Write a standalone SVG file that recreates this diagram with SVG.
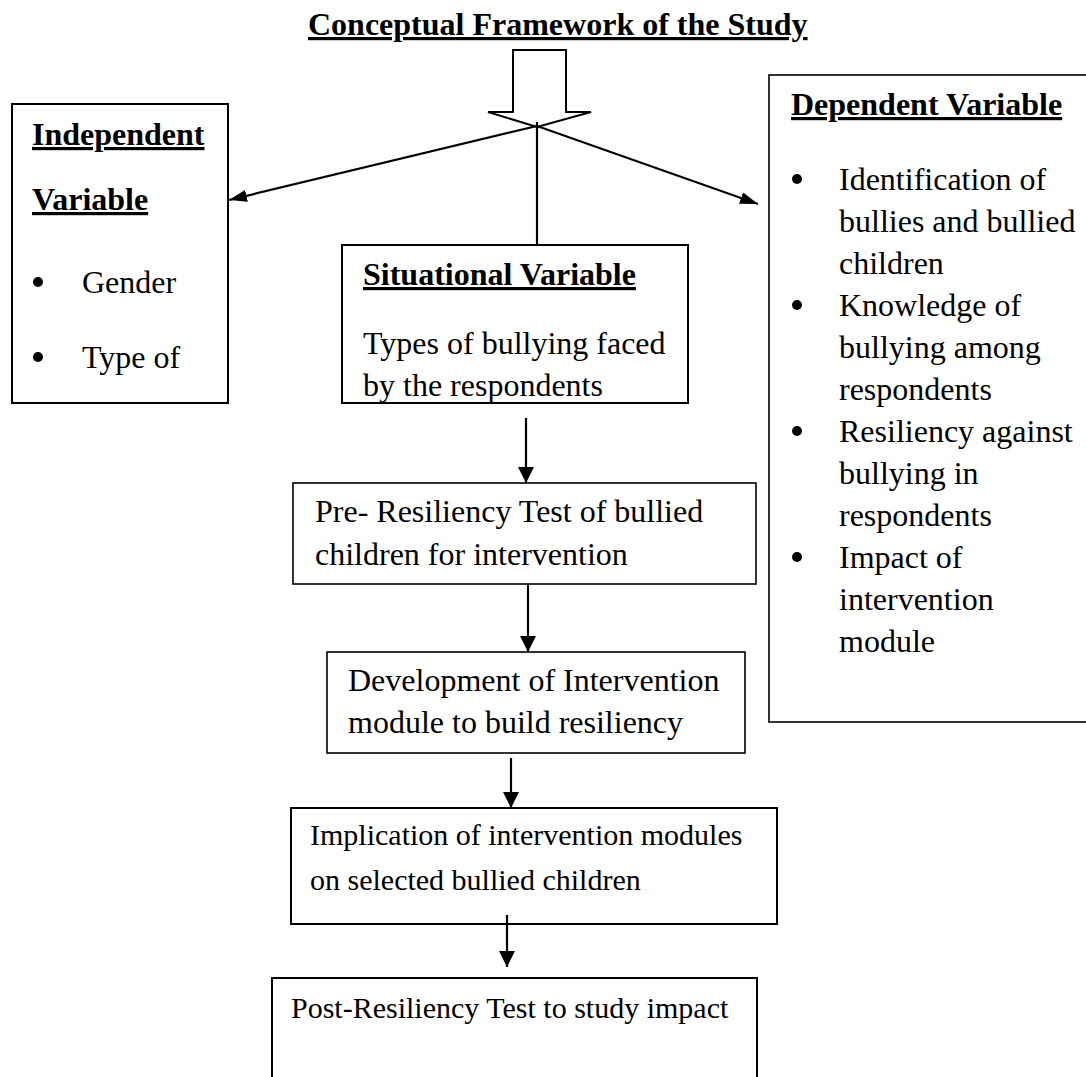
<svg xmlns="http://www.w3.org/2000/svg" width="1086" height="1077" viewBox="0 0 1086 1077">
<style>
text{font-family:"Liberation Serif","Times New Roman",serif;font-size:32px;fill:#000}
.b{font-weight:bold;text-decoration:underline}
.s30{font-size:30px}
.box{fill:#fff;stroke:#000;stroke-width:2}
.thin{stroke-width:1.6}
.con{stroke:#000;stroke-width:2.2;fill:none}
.dot{fill:#000}
</style>
<defs>
<marker id="ah" viewBox="0 0 16 16" refX="16" refY="8" markerWidth="16" markerHeight="16" markerUnits="userSpaceOnUse" orient="auto"><path d="M0,0 L16,8 L0,16 Z" fill="#000"/></marker>
<marker id="ahd" viewBox="0 0 18 12" refX="18" refY="6" markerWidth="18" markerHeight="12" markerUnits="userSpaceOnUse" orient="auto"><path d="M0,0 L18,6 L0,12 Z" fill="#000"/></marker>
</defs>
<rect width="1086" height="1077" fill="#fff"/>
<text id="title" class="b" x="308" y="35">Conceptual Framework of the Study</text>
<g id="block-arrow"><path d="M513,50 L566,50 L566,112 L591,112 L537,127 L488,112 L513,112 Z" fill="#fff" stroke="#000" stroke-width="2"/></g>
<g id="independent">
<rect class="box" x="12" y="104" width="216" height="299"/>
<text class="b" x="32" y="145">Independent</text>
<text class="b" x="32" y="210">Variable</text>
<circle class="dot" cx="38" cy="282" r="5"/><text x="82" y="293">Gender</text>
<circle class="dot" cx="38" cy="357" r="5"/><text x="82" y="368">Type of</text>
</g>
<g id="dependent">
<rect class="box thin" x="769" y="75" width="330" height="647"/>
<text class="b" x="791" y="115">Dependent Variable</text>
<circle class="dot" cx="797" cy="179" r="5"/><text x="839" y="190">Identification of</text>
<text x="839" y="232">bullies and bullied</text>
<text x="839" y="274">children</text>
<circle class="dot" cx="797" cy="305" r="5"/><text x="839" y="316">Knowledge of</text>
<text x="839" y="358">bullying among</text>
<text x="839" y="400">respondents</text>
<circle class="dot" cx="797" cy="431" r="5"/><text x="839" y="442">Resiliency against</text>
<text x="839" y="484">bullying in</text>
<text x="839" y="526">respondents</text>
<circle class="dot" cx="797" cy="557" r="5"/><text x="839" y="568">Impact of</text>
<text x="839" y="610">intervention</text>
<text x="839" y="652">module</text>
</g>
<g id="situational">
<rect class="box" x="342" y="245" width="346" height="158"/>
<text class="b" x="363" y="285">Situational Variable</text>
<text x="363" y="354">Types of bullying faced</text>
<text x="363" y="396">by the respondents</text>
</g>
<g id="pre-test">
<rect class="box thin" x="293" y="483" width="463" height="101"/>
<text x="315" y="522">Pre- Resiliency Test of bullied</text>
<text x="315" y="565">children for intervention</text>
</g>
<g id="development">
<rect class="box thin" x="327" y="652" width="418" height="101"/>
<text x="348" y="691">Development of Intervention</text>
<text x="348" y="733">module to build resiliency</text>
</g>
<g id="implication">
<rect class="box" x="291" y="808" width="486" height="116"/>
<text class="s30" x="310" y="845">Implication of intervention modules</text>
<text class="s30" x="310" y="890">on selected bullied children</text>
</g>
<g id="post-test">
<rect class="box" x="272" y="978" width="485" height="120"/>
<text class="s30" x="291" y="1018">Post-Resiliency Test to study impact</text>
</g>
<g id="connectors">
<line class="con" x1="537" y1="126" x2="229" y2="200" marker-end="url(#ahd)"/>
<line class="con" x1="537" y1="126" x2="758" y2="204" marker-end="url(#ahd)"/>
<line class="con" x1="537" y1="122" x2="537" y2="245" stroke-width="3"/>
<line class="con" x1="526" y1="418" x2="526" y2="483" marker-end="url(#ah)"/>
<line class="con" x1="528" y1="584" x2="528" y2="652" marker-end="url(#ah)"/>
<line class="con" x1="511" y1="758" x2="511" y2="808" marker-end="url(#ah)"/>
<line class="con" x1="507" y1="915" x2="507" y2="967" marker-end="url(#ah)"/>
</g>
</svg>
